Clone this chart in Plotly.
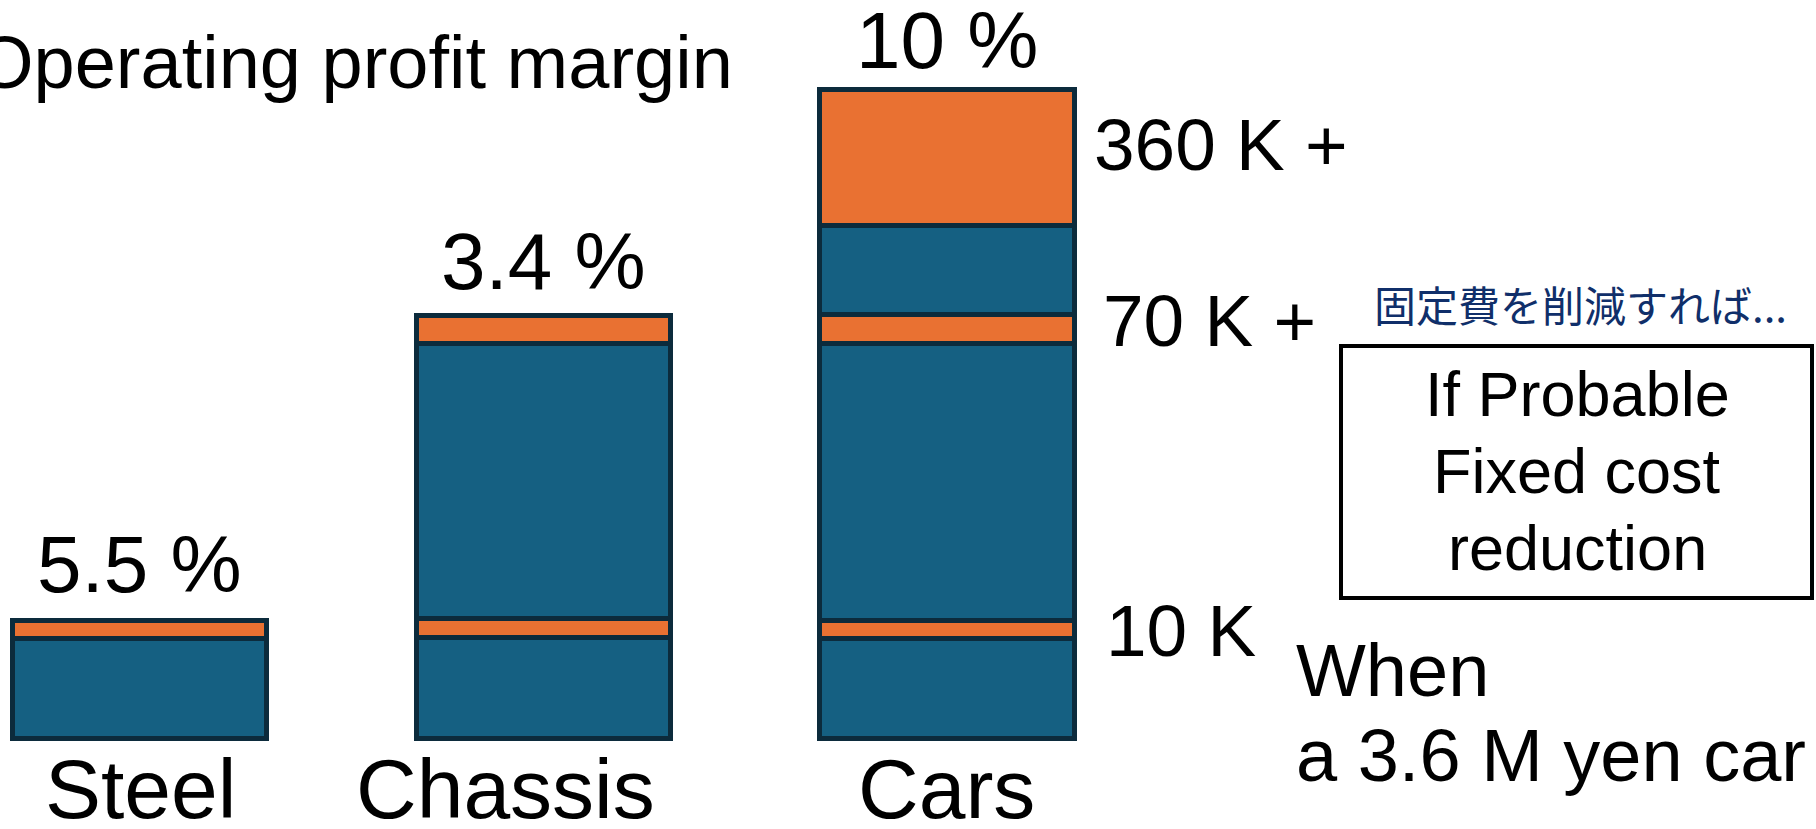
import plotly.graph_objects as go

# ---------------- data (heights, arbitrary units) ----------------
categories = ["Steel", "Chassis", "Cars"]
# stacked layers, bottom to top (None = layer absent for that bar)
layer1_blue   = [100.0, 101.0, 100.0]
layer2_orange = [17.5, 18.5, 18.0]
layer3_blue   = [None, 275.0, 277.0]
layer4_orange = [None, 28.5, 28.7]
layer5_blue   = [None, None, 89.3]
layer6_orange = [None, None, 135.3]
margin_labels = ["5.5 %", "3.4 %", "10 %"]
step_labels = ["10 K", "70 K +", "360 K +"]
title_text = "Operating profit margin"
note_jp = "固定費を削減すれば..."
box_lines = ["If Probable", "Fixed cost", "reduction"]
when_lines = ["When", "a 3.6 M yen car"]

layers = [layer1_blue, layer2_orange, layer3_blue, layer4_orange, layer5_blue, layer6_orange]
totals = [sum(v for v in col if v is not None) for col in zip(*layers)]

# ---------------- style ----------------
W, H = 1816, 829
BLUE = "#156082"
ORANGE = "#E97132"
EDGE = "#0c2b3c"
FONT = "Liberation Sans, Arial, sans-serif"

fig = go.Figure()
for i, vals in enumerate(layers):
    fig.add_trace(go.Bar(
        x=categories, y=vals,
        marker=dict(color=BLUE if i % 2 == 0 else ORANGE,
                    line=dict(color=EDGE, width=5)),
        showlegend=False, hoverinfo="skip",
    ))

def ann(text, x_px, baseline_px, size, xanchor="left", color="black", family=FONT):
    bottom = baseline_px + 0.212 * size + 1
    return dict(text=text, xref="paper", yref="paper",
                x=x_px / W, y=1 - bottom / H,
                xanchor=xanchor, yanchor="bottom", showarrow=False,
                font=dict(size=size, family=family, color=color))

annotations = []
# percentage labels above bars
pct_shift = [10, 7, 3]
for c, t, lab, s in zip(categories, totals, margin_labels, pct_shift):
    annotations.append(dict(text=lab, x=c, y=t, xref="x", yref="y",
                            xanchor="center", yanchor="bottom", yshift=s,
                            showarrow=False,
                            font=dict(size=80, family=FONT, color="black")))
# category labels below bars
cat_shift = [1, -38, -1]
for c, s in zip(categories, cat_shift):
    annotations.append(dict(text=c, x=c, xref="x", yref="paper",
                            y=1 - (819 + 0.212 * 84 + 1) / H,
                            xanchor="center", yanchor="bottom", xshift=s,
                            showarrow=False,
                            font=dict(size=84, family=FONT, color="black")))

annotations.append(ann(title_text, 735, 89, 74, xanchor="right"))
annotations.append(ann(step_labels[2], 1092, 171, 73))
annotations.append(ann(step_labels[1], 1101, 347, 73))
annotations.append(ann(step_labels[0], 1104, 657, 73))
annotations.append(ann(when_lines[0], 1294, 697, 74))
annotations.append(ann(when_lines[1], 1294, 782, 74))
for line, bl in zip(box_lines, [417, 494, 571]):
    annotations.append(ann(line, 1577, bl, 63, xanchor="center"))
annotations.append(dict(text=note_jp, xref="paper", yref="paper",
                        x=1580 / W, y=1 - 303 / H, xanchor="center", yanchor="middle",
                        showarrow=False,
                        font=dict(size=42, family="Noto Sans CJK JP", color="#102f6a")))

shapes = [dict(type="rect", xref="paper", yref="paper",
               x0=1341 / W, x1=1812 / W, y0=1 - 346 / H, y1=1 - 598 / H,
               line=dict(color="black", width=4), fillcolor="rgba(0,0,0,0)")]

# axes: unit mapping so bars sit where they do in the picture
px_per_cat = 403.8
x0_px = 139.5
xr0 = -x0_px / px_per_cat
xr1 = xr0 + W / px_per_cat
base_px = 738.2
yr = [-(H - base_px), base_px]

fig.update_layout(
    width=W, height=H,
    margin=dict(l=0, r=0, t=0, b=0),
    paper_bgcolor="white", plot_bgcolor="white",
    barmode="stack", bargap=0.37,
    xaxis=dict(range=[xr0, xr1], visible=False, fixedrange=True),
    yaxis=dict(range=yr, visible=False, fixedrange=True),
    annotations=annotations, shapes=shapes,
    showlegend=False,
)
fig.write_html("out.html", config={"displayModeBar": False},
               post_script="document.body.style.margin='0px';document.body.style.overflow='hidden';")
